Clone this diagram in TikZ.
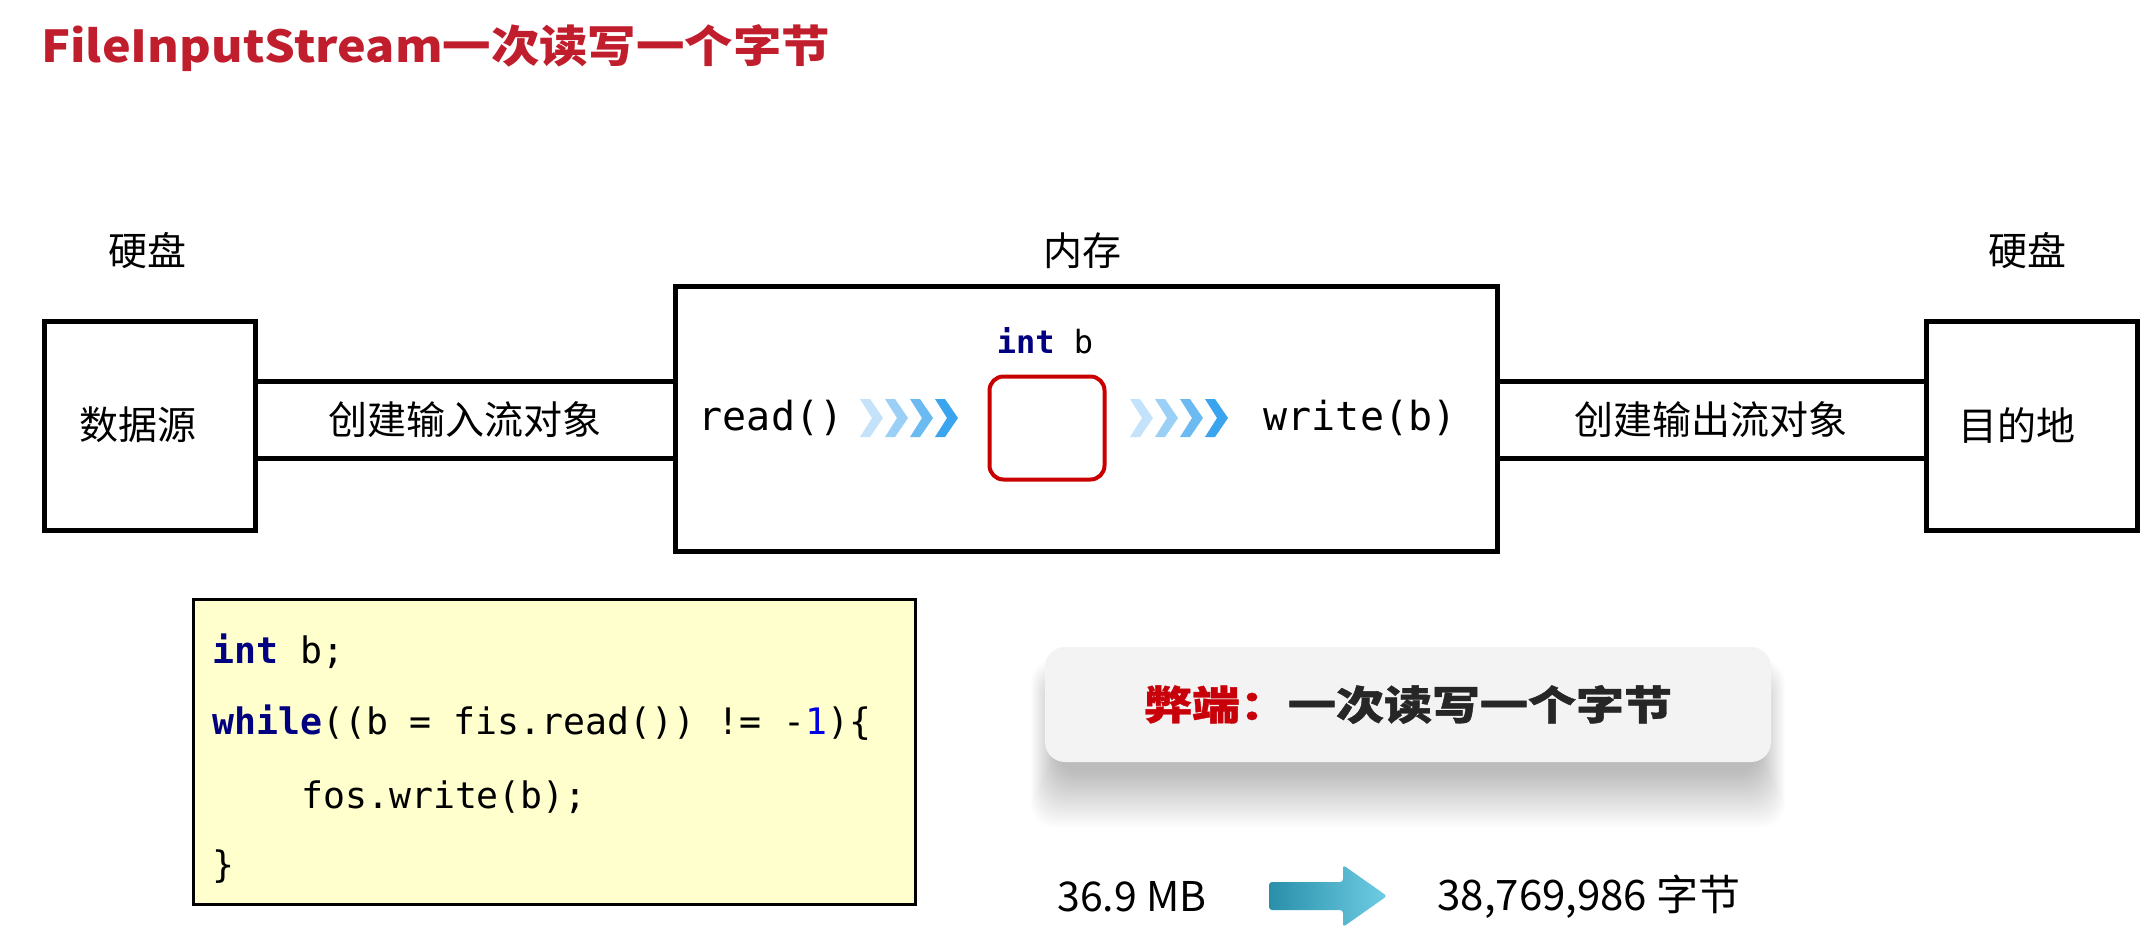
\documentclass[tikz,border=0pt]{standalone}
\usepackage{fontspec}
\setmainfont{Noto Sans CJK SC}
\newfontfamily\titlefont[FakeStretch=1.1]{Noto Sans CJK SC}
\newfontfamily\heavyfont[FakeStretch=1.2,FakeBold=1]{Noto Sans CJK SC}
\newfontfamily\codefont{DejaVu Sans Mono}
\definecolor{titlered}{RGB}{192,30,45}
\definecolor{kw}{RGB}{0,0,128}
\definecolor{numblue}{RGB}{0,0,230}
\definecolor{codebg}{RGB}{255,255,206}
\definecolor{varred}{RGB}{200,0,0}
\definecolor{warnred}{RGB}{200,0,10}
\definecolor{chA}{RGB}{196,226,250}
\definecolor{chB}{RGB}{154,207,246}
\definecolor{chC}{RGB}{107,186,242}
\definecolor{chD}{RGB}{59,164,238}
\definecolor{arrL}{RGB}{42,143,170}
\definecolor{arrR}{RGB}{110,205,227}
\definecolor{calloutbg}{RGB}{243,243,243}
\definecolor{darktext}{RGB}{38,38,38}
\tikzset{
  diskbox/.style={draw, line width=5pt, minimum width=211pt, minimum height=209pt, inner sep=0pt, font=\fontsize{39}{44}\selectfont},
  membox/.style={draw, line width=5pt, minimum width=822pt, minimum height=265pt, inner sep=0pt},
  lbl/.style={inner sep=0pt, font=\fontsize{39}{44}\selectfont},
  chan/.style={inner sep=0pt, minimum height=76pt, font=\fontsize{39}{44}\selectfont},
  chanline/.style={line width=5pt},
  codeline/.style={anchor=west, inner sep=0pt, font=\codefont\fontsize{36.5}{40}\selectfont},
  monolbl/.style={inner sep=0pt, font=\codefont\fontsize{40}{44}\selectfont},
  numlbl/.style={inner sep=0pt, font=\fontsize{42}{46}\selectfont},
}
\begin{document}
\begin{tikzpicture}[x=1pt,y=-1pt]
\useasboundingbox (0,0) rectangle (2148,946);

% title
\node[anchor=west, inner sep=0pt, text=titlered, font=\titlefont\bfseries\fontsize{44}{50}\selectfont] (title) at (41,48) {FileInputStream一次读写一个字节};

% disk / memory labels
\node[lbl] (hd1) at (147,251) {硬盘};
\node[lbl] (mem) at (1082,251) {内存};
\node[lbl] (hd2) at (2027,251) {硬盘};

% boxes
\node[diskbox] (src) at (149.5,425.5) {};
\node[lbl] (srclbl) at (138,425) {数据源};
\node[membox] (memory) at (1086,418.5) {};
\node[diskbox] (dst) at (2031.5,425.5) {};
\node[lbl] (dstlbl) at (2017,425) {目的地};

% channels
\node[chan, minimum width=420pt] (inch) at (465,420) {创建输入流对象};
\node[chan, minimum width=428pt] (outch) at (1711,420) {创建输出流对象};
\draw[chanline] (src.east |- inch.north) -- (memory.west |- inch.north);
\draw[chanline] (src.east |- inch.south) -- (memory.west |- inch.south);
\draw[chanline] (memory.east |- outch.north) -- (dst.west |- outch.north);
\draw[chanline] (memory.east |- outch.south) -- (dst.west |- outch.south);

% memory content
\node[monolbl] (read) at (771,418) {read()};
\node[monolbl] (write) at (1360,418) {write(b)};
\node[draw=varred, line width=4pt, rounded corners=14pt, minimum width=115pt, minimum height=103pt, inner sep=0pt] (var) at (1047,428) {};
\node[inner sep=0pt, font=\codefont\fontsize{32}{36}\selectfont] (varlbl) at (1045,341) {\textbf{\color{kw}int} b};

% chevrons
\foreach \i/\c in {0/chA,1/chB,2/chC,3/chD} {
  \fill[\c, shift={(860+25*\i,418)}] (0,-19) -- (10,-19) -- (23,0) -- (10,19) -- (0,19) -- (12,0) -- cycle;
  \fill[\c, shift={(1130+25*\i,418)}] (0,-19) -- (10,-19) -- (23,0) -- (10,19) -- (0,19) -- (12,0) -- cycle;
}

% code box
\node[draw, line width=3pt, fill=codebg, minimum width=722pt, minimum height=305pt, inner sep=0pt] (codebox) at (554,751.5) {};
\node[codeline] (c1) at (212,651) {\textbf{\color{kw}int} b;};
\node[codeline] (c2) at (212,723) {\textbf{\color{kw}while}((b = fis.read()) != -{\color{numblue}1}){\char`\{}};
\node[codeline] (c3) at (301,797) {fos.write(b);};
\node[codeline] (c4) at (212,867) {{\char`\}}};

% callout shadow (soft)
\foreach \k in {0,...,34} {
  \fill[black, opacity=0.009, rounded corners=24pt] (1058-0.8*\k,690-0.9*\k) rectangle (1758+0.8*\k,770+1.7*\k);
}
\node[fill=calloutbg, rounded corners=20pt, minimum width=726pt, minimum height=115pt, inner sep=0pt, font=\heavyfont\bfseries\fontsize{40}{46}\selectfont] (callout) at (1408,704.5) {{\color{warnred}弊端：}{\color{darktext}一次读写一个字节}};

% size conversion
\node[numlbl, font=\fontsize{41}{46}\selectfont] (mb) at (1132,897) {36.9 MB};
\node[numlbl] (bytes) at (1589,897) {38,769,986 字节};
\shade[left color=arrL, right color=arrR, rounded corners=3pt] (1269,882) -- (1343,882) -- (1343,865) -- (1387,896) -- (1343,927) -- (1343,910) -- (1269,910) -- cycle;
\end{tikzpicture}
\end{document}
